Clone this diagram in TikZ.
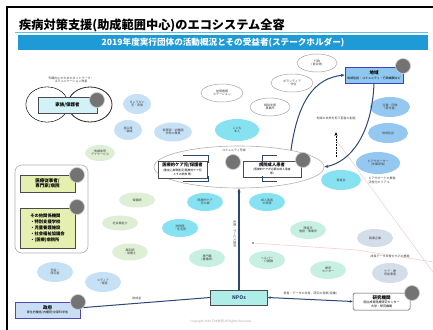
\documentclass[tikz,border=0pt]{standalone}
\usepackage{fontspec}
\setmainfont{Noto Sans CJK JP}
\usetikzlibrary{shapes.geometric,arrows.meta}
\definecolor{banner}{HTML}{1E9AD6}
\definecolor{rulec}{HTML}{5CC6E6}
\definecolor{cyanf}{HTML}{86E2F0}
\definecolor{lblue}{HTML}{C6E0F6}
\definecolor{mblue}{HTML}{95C8F0}
\definecolor{lgreen}{HTML}{DFEFD5}
\definecolor{tgreen}{HTML}{C8F0E2}
\definecolor{gblue}{HTML}{D3DEEA}
\definecolor{navy}{HTML}{2B4775}
\definecolor{ygreen}{HTML}{E4EFB0}
\definecolor{lcyan}{HTML}{D2F2F7}
\definecolor{npof}{HTML}{AEEDE8}
\definecolor{chiikif}{HTML}{8EC8F0}
\definecolor{govf}{HTML}{C9DEF3}
\definecolor{faint}{HTML}{F0D2CF}
\begin{document}
\begin{tikzpicture}[x=1pt,y=-1pt,
  tiny/.style={font=\fontsize{3}{3.6}\selectfont,align=center,text=black!75},
  ell/.style={ellipse,inner sep=0pt,tiny},
  wl/.style={ell,draw=gray!70,fill=white,line width=0.5pt},
  cy/.style={ell,fill=cyanf},
  lb/.style={ell,fill=lblue},
  mb/.style={ell,fill=mblue},
  lg/.style={ell,fill=lgreen},
  tg/.style={ell,fill=tgreen},
  gb/.style={ell,fill=gblue},
  gc/.style={circle,fill=black!55,draw=gray!40,line width=0.7pt,minimum size=15pt,inner sep=0pt},
  box/.style={rectangle,draw=gray!60!black,line width=0.5pt,inner sep=1pt,align=center},
  conn/.style={draw=navy,line width=1pt},
  tip/.style={-{Stealth[length=4pt,width=3pt]}}
]
\useasboundingbox (0,0) rectangle (433,329);
\fill[white] (0,0) rectangle (433,329);
\draw[line width=1.8pt] (7,340) -- (7,7) -- (440,7);
% title
\node[anchor=west,inner sep=0pt,font=\fontsize{12.2}{13}\selectfont\bfseries] (title) at (19,25) {疾病対策支援(助成範囲中心)のエコシステム全容};
\draw[rulec,line width=1.5pt] (15,32.5) -- (428,32.5);
\node[fill=banner,minimum width=410pt,minimum height=15pt,inner sep=0pt,text=white,font=\fontsize{8.6}{9}\selectfont\bfseries] (banner) at (223,43) {2019年度実行団体の活動概況とその受益者(ステークホルダー)};
% faint lines
\coordinate (f1) at (253,243); \coordinate (f2) at (357,250); \coordinate (f3) at (433,262);
\coordinate (f4) at (336,140); \coordinate (f5) at (433,272);
\draw[faint,line width=0.6pt] (f1) -- (f2) -- (f3);
\draw[faint,line width=0.6pt] (f4) -- (f5);
\fill[black!70] (f1) circle (0.9pt);
% family figure-eight
\draw[gray!30!black,line width=0.8pt,fill=white] (47,104.5) ellipse [x radius=21pt, y radius=17.5pt];
\draw[gray!30!black,line width=0.8pt,fill=white] (90,104.5) ellipse [x radius=22pt, y radius=17.5pt];
\fill[white] (47,104.5) ellipse [x radius=20.6pt, y radius=17.1pt];
\node[tiny,anchor=center] (famtxt) at (71,80) {知識向上のためのネットワーク・\\コミュニケーション改善};
\node[box,fill=lcyan,minimum width=59pt,minimum height=16pt,font=\fontsize{4.5}{5}\selectfont\bfseries] (fam) at (67.5,105) {家族/保護者};
\node[gc] (gfam) at (97,100) {};
% left panel
\draw[gray!60,line width=0.6pt,rounded corners=7pt,fill=white] (15,165) rectangle (88,253);
\node[box,fill=ygreen,minimum width=55pt,minimum height=17pt,font=\fontsize{4.5}{5.2}\selectfont\bfseries] (med) at (47.5,183.5) {医療従事者/\\専門家/病院};
\node[gc] (gmed) at (77,175) {};
\node[box,fill=ygreen,minimum width=55pt,minimum height=40pt,align=left,font=\fontsize{4.3}{6.2}\selectfont\bfseries] (oth) at (47.5,228) {その他関係機関\\・特別支援学校\\・児童養護施設\\・社会福祉協議会\\・(医療)病院所};
\node[gc] (goth) at (77,207) {};
% top ellipses
\node[lb,minimum width=28pt,minimum height=20pt] (e1) at (137,104) {きょうだい\\児・家族};
\node[lb,minimum width=28pt,minimum height=20pt] (e2) at (128,130) {祖父母\\・親戚};
\node[lg,minimum width=30pt,minimum height=16pt] (e3) at (100,153) {放課後等\\デイサービス};
\node[lb,minimum width=38pt,minimum height=19pt] (e4) at (173,132) {保育園・幼稚園\\学校の教員};
\node[cy,minimum width=44pt,minimum height=22pt] (e5) at (237,130) {こども\\本人};
\node[wl,minimum width=42pt,minimum height=18pt] (w1) at (222,93) {訪問看護\\ステーション};
\node[wl,minimum width=40pt,minimum height=18pt] (w2) at (270,107) {相談支援\\事業所};
\node[wl,minimum width=42pt,minimum height=18pt] (w3) at (292,83) {ボランティア\\・学生};
\node[wl,minimum width=40pt,minimum height=18pt] (w4) at (317,63) {行政\\(自治体)};
% chiiki
\node[box,fill=chiikif,draw=blue!50!gray,minimum width=58pt,minimum height=16pt,font=\fontsize{4.5}{5}\selectfont\bfseries] (chiiki) at (374,75) {地域\\[-0.5pt]{\fontsize{3}{3.5}\selectfont\mdseries 地域住民・コミュニティ・行政機関など}};
\node[gc] (gchi) at (403,66) {};
\node[mb,minimum width=40pt,minimum height=20pt] (b1) at (390,107) {企業・団体\\(寄付者)};
\node[mb,minimum width=40pt,minimum height=20pt] (b2) at (388,133) {地域住民};
\node[mb,minimum width=44pt,minimum height=22pt] (b3) at (378,163) {ピアサポーター\\(先輩家族)};
\node[tiny] (futxt) at (336,118) {地域の未来を担う若者の創造};
\coordinate (d1) at (336,157); \coordinate (d2) at (336,132);
\draw[densely dotted,line width=0.6pt,tip] (d1) -- (d2);
\node[tiny,anchor=west,align=left] (peer) at (365,180.5) {ピアサポートの推進\\活性化のリアル};
% community ellipse
\node[ellipse,draw=gray!60,line width=0.6pt,fill=white,minimum width=170pt,minimum height=42pt] (comm) at (239,167) {};
\node[tiny] (commtxt) at (234,150.5) {コミュニティ形成};
\node[box,fill=white,minimum width=49pt,minimum height=17pt,font=\fontsize{4.3}{5}\selectfont\bfseries] (child) at (182.5,169.5) {医療的ケア児/保護者\\[-0.5pt]{\fontsize{2.8}{3.3}\selectfont\mdseries (重症心身障害児/医療的ケア児}\\[-1pt]{\fontsize{2.8}{3.3}\selectfont\mdseries とその家族 等)}};
\node[box,fill=white,minimum width=58pt,minimum height=16pt,font=\fontsize{4.3}{5}\selectfont\bfseries] (adult) at (272,169) {病院成人患者\\[-0.5pt]{\fontsize{2.8}{3.3}\selectfont\mdseries (医療的ケアが必要な成人患者}\\[-1pt]{\fontsize{2.8}{3.3}\selectfont\mdseries 等)}};
\draw[navy,line width=1pt] (183,155) -- (208,155) -- (208,163) (208,176) -- (208,181) -- (183,181);
\draw[navy,line width=1pt] (277,155) -- (262,155) -- (262,163) (262,176) -- (262,181) -- (277,181);
\node[gc] (gcomm) at (233,162) {};
\node[gc] (gadult) at (303,160) {};
\node[cy,minimum width=40pt,minimum height=20pt] (c1) at (341,180) {患者会};
% middle ellipses
\node[cy,minimum width=36pt,minimum height=18pt] (c2) at (205,202) {医療的ケア\\児の親};
\node[cy,minimum width=36pt,minimum height=18pt] (c3) at (267,202) {成人患者\\の家族};
\node[cy,minimum width=36pt,minimum height=18pt] (c4) at (180,228) {訪問医\\・在宅医};
\node[tg,minimum width=36pt,minimum height=18pt] (c5) at (207,258) {専門職\\(看護師)};
\node[tg,minimum width=36pt,minimum height=18pt] (c6) at (267,260) {ヘルパー\\・介護職};
\node[tg,minimum width=36pt,minimum height=18pt] (c7) at (308,230) {障害児\\施設・事業所};
\node[tg,minimum width=36pt,minimum height=18pt] (c8) at (328,270) {療育\\センター};
\node[lg,minimum width=36pt,minimum height=15pt] (g1) at (137,200) {保健師};
\node[lg,minimum width=36pt,minimum height=15pt] (g2) at (120,223) {社会福祉士};
\node[lg,minimum width=36pt,minimum height=17pt] (g3) at (130,252) {薬剤師\\・栄養士};
\node[gb,minimum width=36pt,minimum height=18pt] (k1) at (375,238) {製薬企業};
\node[gb,minimum width=36pt,minimum height=20pt] (k2) at (390,273) {ケア・療\\育従事者};
\node[tiny] (growth) at (390,256) {成長データ共有とケアの推進};
\node[lb,minimum width=36pt,minimum height=20pt] (k3) at (55,272) {学会・\\研究者};
\node[lb,minimum width=36pt,minimum height=20pt] (k4) at (103,282) {メディア\\・報道};
% bottom boxes
\node[box,fill=govf,draw=gray!60!blue,minimum width=65pt,minimum height=16pt,font=\fontsize{4.5}{5}\selectfont\bfseries] (gov) at (47.5,310) {政府\\[-0.5pt]{\fontsize{3}{3.5}\selectfont\mdseries 厚生労働省/内閣府/文部科学省}};
\node[gc] (ggov) at (78,302) {};
\node[box,fill=npof,minimum width=57pt,minimum height=15pt,font=\fontsize{5}{6}\selectfont\bfseries,text=navy] (npo) at (239,297.5) {NPOs};
\node[box,fill=white,rounded corners=1.5pt,minimum width=57pt,minimum height=17pt,font=\fontsize{4.5}{5}\selectfont\bfseries] (lab) at (381.5,301.5) {研究機関\\[-0.5pt]{\fontsize{3}{3.5}\selectfont\mdseries 国立成育医療研究センター}\\[-1pt]{\fontsize{3}{3.5}\selectfont\mdseries 大学・研究機関}};
\node[gc] (glab) at (412,293) {};
% connectors
\draw[conn] (ggov.south east) -- (npo.west) node[pos=0.42,above=0pt,tiny] (grant) {助成金};
\draw[conn,{Stealth[length=3pt,width=2.5pt]}-{Stealth[length=3pt,width=2.5pt]}] (npo.east) -- (lab.west) node[midway,above=0.5pt,tiny] (share) {患者・データの共有、研究の発展(協働)};
\draw[conn,line width=1.2pt,tip] (npo.north) -- (comm.south) node[pos=0.55,right=1pt,tiny,rotate=-90,anchor=north] (supp) {支援・サービス提供};
\draw[conn,tip] (comm.18) .. controls (298,100) and (315,78) .. (chiiki.west);
\draw[conn,tip] (chiiki.south) .. controls (372,135) and (350,162) .. (comm.east);
% footer
\node[tiny,text=gray!70] (foot) at (221,322) {Copyright 2020 日本財団 All Rights Reserved.};
\end{tikzpicture}
\end{document}
